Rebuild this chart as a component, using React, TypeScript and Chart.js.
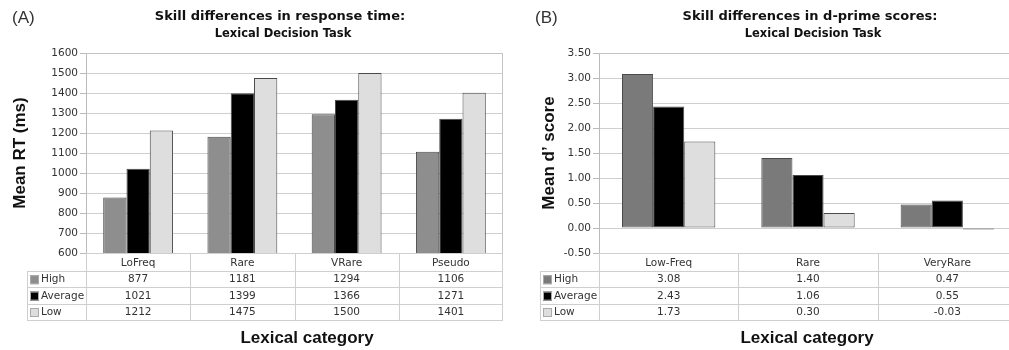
import React, { useEffect, useRef } from "react";
import { Chart, registerables } from "chart.js";

Chart.register(...registerables);

// ---------- Data ----------
const seriesNames = ["High", "Average", "Low"];

const rtCategories = ["LoFreq", "Rare", "VRare", "Pseudo"];
const rtHigh = [877, 1181, 1294, 1106];
const rtAverage = [1021, 1399, 1366, 1271];
const rtLow = [1212, 1475, 1500, 1401];

const dCategories = ["Low-Freq", "Rare", "VeryRare"];
const dHigh = [3.08, 1.4, 0.47];
const dAverage = [2.43, 1.06, 0.55];
const dLow = [1.73, 0.3, -0.03];

const FONT = '"DejaVu Sans", Verdana, sans-serif';
const SANS = '"Liberation Sans", Arial, sans-serif';

type PanelCfg = {
  panel: string;
  panelX: number;
  title1: string;
  title2: string;
  titleX: number;
  yTitle: string;
  yTitleX: number;
  xTitleX: number;
  categories: string[];
  series: number[][];
  colors: string[];
  fmt: (v: number) => string;
  legendWidth: number;
};

function decorPlugin(cfg: PanelCfg) {
  return {
    id: "decor",
    afterDraw(chart: any) {
      const { ctx, chartArea: ca, scales } = chart;
      const x = scales.x;
      const n = cfg.categories.length;
      const cw = (ca.right - ca.left) / n;
      ctx.save();
      // plot border (top & right)
      ctx.strokeStyle = "#c4c4c4";
      ctx.lineWidth = 1;
      ctx.beginPath();
      ctx.moveTo(ca.left, Math.round(ca.top) + 0.5);
      ctx.lineTo(Math.round(ca.right) - 0.5, Math.round(ca.top) + 0.5);
      ctx.lineTo(Math.round(ca.right) - 0.5, Math.round(ca.bottom));
      ctx.stroke();

      // table
      const headerBottom = ca.bottom + 18;
      const rowH = 16.4;
      const tableBottom = headerBottom + rowH * 3;
      const legLeft = ca.left - cfg.legendWidth;
      ctx.strokeStyle = "#cfcfcf";
      ctx.beginPath();
      for (let i = 0; i <= n; i++) {
        const xx = Math.round(ca.left + i * cw) + (i === n ? -0.5 : 0.5);
        ctx.moveTo(xx, ca.bottom);
        ctx.lineTo(xx, tableBottom);
      }
      ctx.moveTo(Math.round(legLeft) + 0.5, headerBottom);
      ctx.lineTo(Math.round(legLeft) + 0.5, tableBottom);
      for (let r = 0; r <= 3; r++) {
        const yy = Math.round(headerBottom + r * rowH) + 0.5;
        ctx.moveTo(legLeft, yy);
        ctx.lineTo(ca.right, yy);
      }
      ctx.stroke();

      ctx.fillStyle = "#333";
      ctx.font = `10.5px ${FONT}`;
      ctx.textAlign = "center";
      ctx.textBaseline = "middle";
      cfg.categories.forEach((c, i) => {
        ctx.fillText(c, x.getPixelForValue(i), (ca.bottom + headerBottom) / 2 + 1);
      });
      cfg.series.forEach((vals, r) => {
        const cy = headerBottom + r * rowH + rowH / 2 + 0.5;
        ctx.fillStyle = cfg.colors[r];
        ctx.fillRect(legLeft + 3, cy - 4.5, 9, 9);
        ctx.strokeStyle = "#aaa";
        ctx.strokeRect(legLeft + 3.5, cy - 4, 8, 8);
        ctx.fillStyle = "#333";
        ctx.textAlign = "left";
        ctx.fillText(seriesNames[r], legLeft + 14, cy);
        ctx.textAlign = "center";
        vals.forEach((v, i) => ctx.fillText(cfg.fmt(v), x.getPixelForValue(i), cy));
      });

      // titles
      ctx.fillStyle = "#111";
      ctx.textAlign = "center";
      ctx.font = `bold 13px ${FONT}`;
      ctx.fillText(cfg.title1, cfg.titleX, 17);
      ctx.font = `bold 11.5px ${FONT}`;
      ctx.fillText(cfg.title2, cfg.titleX + 3, 34);

      ctx.font = `17px ${SANS}`;
      ctx.textAlign = "left";
      ctx.fillStyle = "#333";
      ctx.fillText(cfg.panel, cfg.panelX, 18);

      ctx.fillStyle = "#111";
      ctx.font = `bold 17px ${SANS}`;
      ctx.textAlign = "center";
      ctx.fillText("Lexical category", cfg.xTitleX, 338);

      ctx.save();
      ctx.translate(cfg.yTitleX, (ca.top + ca.bottom) / 2);
      ctx.rotate(-Math.PI / 2);
      ctx.fillText(cfg.yTitle, 0, 0);
      ctx.restore();

      ctx.restore();
    },
  };
}

function makeChart(
  canvas: HTMLCanvasElement,
  cfg: PanelCfg,
  yMin: number,
  yMax: number,
  step: number,
  yWidth: number,
  padRight: number
) {
  return new Chart(canvas, {
    type: "bar",
    data: {
      labels: cfg.categories,
      datasets: cfg.series.map((d, i) => ({
        label: seriesNames[i],
        data: d,
        backgroundColor: cfg.colors[i],
        borderColor: "#4a4a4a",
        borderWidth: 1,
        borderSkipped: false,
        categoryPercentage: 0.67,
        barPercentage: 1.0,
      })),
    },
    options: {
      animation: false,
      responsive: false,
      devicePixelRatio: 1,
      layout: { padding: { left: 0, top: 53, right: padRight, bottom: 97 } },
      plugins: { legend: { display: false }, title: { display: false }, tooltip: { enabled: false } },
      scales: {
        x: { display: false, offset: true },
        y: {
          min: yMin,
          max: yMax,
          afterFit: (s: any) => {
            s.width = yWidth;
          },
          ticks: {
            stepSize: step,
            color: "#333",
            padding: 2,
            font: { family: FONT, size: 10.5 },
            callback: (v: any) => cfg.fmt(Number(v)),
          },
          grid: { color: "#cfcfcf", tickLength: 6, tickColor: "#bbb" },
          border: { color: "#bbb" },
        },
      },
    },
    plugins: [decorPlugin(cfg)],
  });
}

export default function App() {
  const refA = useRef<HTMLCanvasElement>(null);
  const refB = useRef<HTMLCanvasElement>(null);

  useEffect(() => {
    const cfgA: PanelCfg = {
      panel: "(A)",
      panelX: 12,
      title1: "Skill differences in response time:",
      title2: "Lexical Decision Task",
      titleX: 280,
      yTitle: "Mean RT (ms)",
      yTitleX: 20,
      xTitleX: 307,
      categories: rtCategories,
      series: [rtHigh, rtAverage, rtLow],
      colors: ["#8e8e8e", "#000000", "#dedede"],
      fmt: (v) => String(Math.round(v)),
      legendWidth: 59,
    };
    const cfgB: PanelCfg = {
      panel: "(B)",
      panelX: 30,
      title1: "Skill differences in d-prime scores:",
      title2: "Lexical Decision Task",
      titleX: 305,
      yTitle: "Mean d\u2019 score",
      yTitleX: 44,
      xTitleX: 302,
      categories: dCategories,
      series: [dHigh, dAverage, dLow],
      colors: ["#7a7a7a", "#000000", "#dedede"],
      fmt: (v) => v.toFixed(2),
      legendWidth: 59,
    };
    const a = makeChart(refA.current!, cfgA, 600, 1600, 100, 86, 2);
    const b = makeChart(refB.current!, cfgB, -0.5, 3.5, 0.5, 94, 3);
    return () => {
      a.destroy();
      b.destroy();
    };
  }, []);

  return (
    <div
      style={{
        position: "absolute",
        left: 0,
        top: 0,
        width: 1009,
        height: 350,
        overflow: "hidden",
        background: "#fff",
      }}
    >
      <canvas ref={refA} width={505} height={350} style={{ position: "absolute", left: 0, top: 0 }} />
      <canvas ref={refB} width={515} height={350} style={{ position: "absolute", left: 505, top: 0 }} />
    </div>
  );
}
